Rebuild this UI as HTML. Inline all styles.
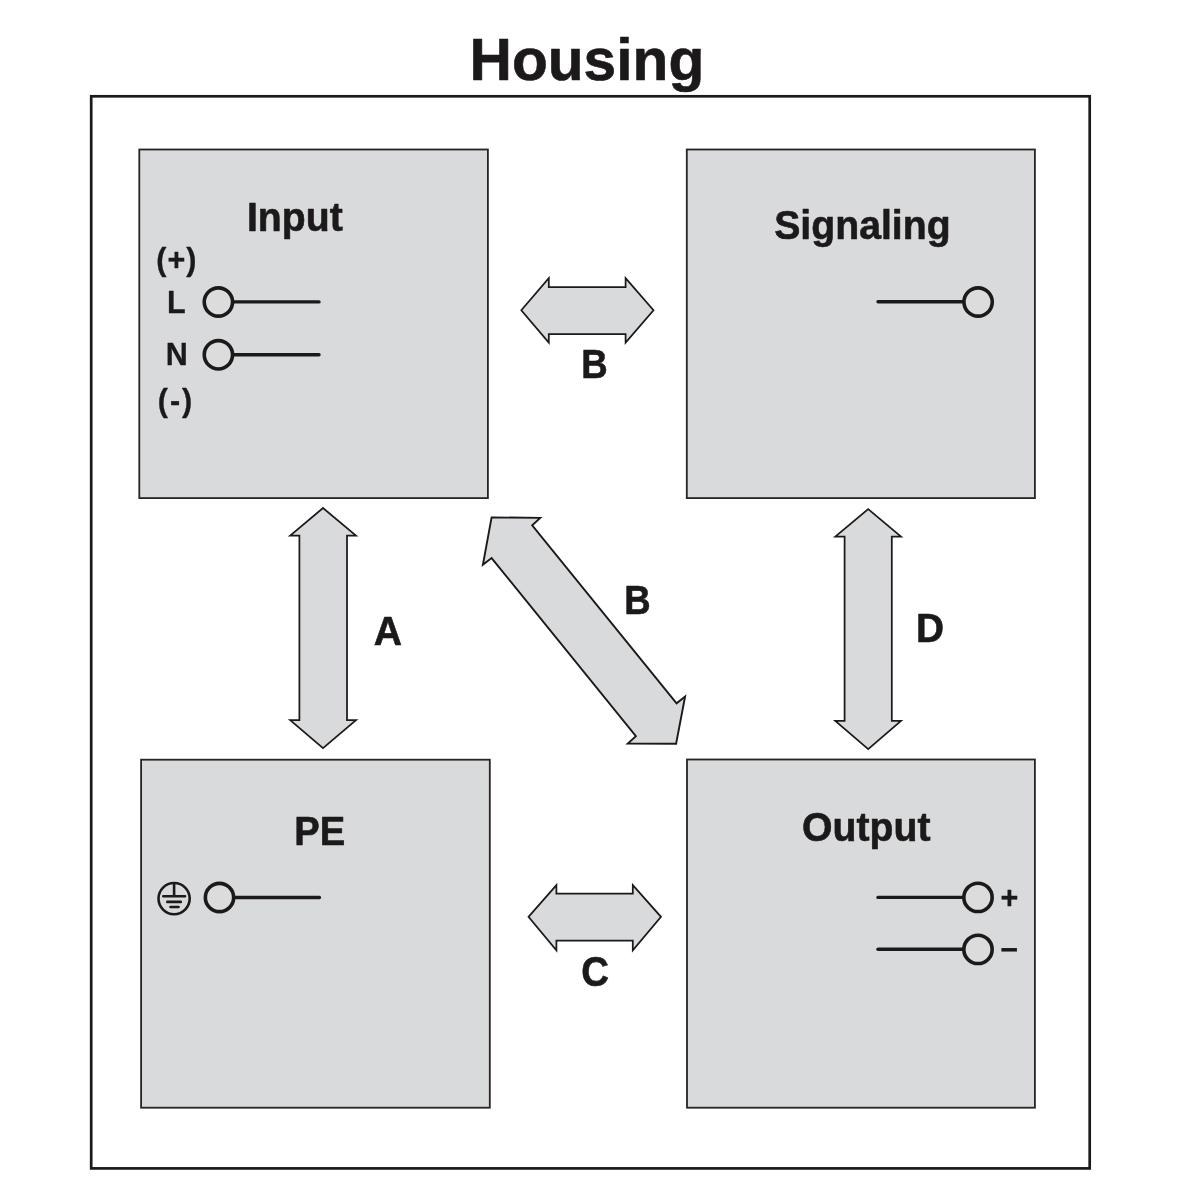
<!DOCTYPE html>
<html lang="en">
<head>
<meta charset="utf-8">
<title>Housing</title>
<style>
html,body{margin:0;padding:0;background:#fff;}
body{width:1181px;height:1200px;overflow:hidden;}
svg{display:block;will-change:transform;}
text{font-family:"Liberation Sans",Arial,Helvetica,sans-serif;font-weight:bold;fill:#1c191a;stroke:#1c191a;stroke-width:0.3px;stroke-linejoin:round;text-anchor:middle;}
.box{fill:#d9dadb;stroke:#262324;stroke-width:1.8;}
.arrow{fill:#d9dadb;stroke:#1c191a;stroke-width:1.75;stroke-linejoin:miter;}
.term{fill:#dcdcdd;stroke:#1c191a;stroke-width:3.6;}
.wire{fill:none;stroke:#1c191a;stroke-width:3.4;stroke-linecap:round;}
.gnd{fill:none;stroke:#1c191a;stroke-width:2.6;stroke-linecap:round;}
.t1{font-size:60px;stroke-width:0.6px;}
.t2{font-size:39.8px;stroke-width:0.6px;}
.t3{font-size:30.5px;}
</style>
</head>
<body>
<svg width="1181" height="1200" viewBox="0 0 1181 1200">
<rect x="0" y="0" width="1181" height="1200" fill="#ffffff"/>
<text id="title" class="t1" transform="translate(586.9 80) scale(0.978 1)">Housing</text>
<rect id="housing" x="91.2" y="96.3" width="998.5" height="1072.1" fill="#ffffff" stroke="#1c191a" stroke-width="2.7"/>

<rect id="b-input" class="box" x="139.3" y="149.5" width="348.6" height="348.6"/>
<rect id="b-signal" class="box" x="686.8" y="149.5" width="348.1" height="348.6"/>
<rect id="b-pe" class="box" x="141.1" y="759.7" width="348.7" height="348"/>
<rect id="b-output" class="box" x="687" y="759.5" width="347.9" height="348.2"/>

<polygon id="a-A" class="arrow" points="323,508 356,535.7 347,535.7 347,720.2 356,720.2 323,748.2 290.2,720.2 299.4,720.2 299.4,535.7 290.2,535.7"/>
<polygon id="a-D" class="arrow" points="868.2,509.1 901,536.6 891.8,536.6 891.8,720.9 901,720.9 868.2,749.1 835.3,720.9 844.6,720.9 844.6,536.6 835.3,536.6"/>
<polygon id="a-B" class="arrow" points="521.3,310.2 548.8,278.1 548.8,287 625.6,287 625.6,278.1 653.5,310.2 625.6,342.6 625.6,334.2 548.8,334.2 548.8,342.6"/>
<polygon id="a-C" class="arrow" points="528.5,916.8 556.4,885.1 556.4,893.7 632.8,893.7 632.8,885.1 661,916.8 632.8,950.4 632.8,940.7 556.4,940.7 556.4,950.4"/>
<polygon id="a-diag" class="arrow" style="stroke-width:1.9" points="491.6,517.4 540.2,517.9 532.2,525.4 676.6,703.3 685.1,696.5 676.1,743.7 627.8,743.5 635.9,736.1 491.6,558.1 482.9,564.8"/>

<text id="l-input" class="t2" transform="translate(294.8 230.5) scale(0.985 1)">Input</text>
<text id="l-signal" class="t2" transform="translate(862.4 239) scale(0.985 1)">Signaling</text>
<text id="l-pe" class="t2" transform="translate(319.8 844.9) scale(0.96 1)">PE</text>
<text id="l-output" class="t2" transform="translate(866.3 841) scale(0.985 1)">Output</text>
<text id="l-A" class="t2" transform="translate(387.9 644.6) scale(0.985 1)">A</text>
<text id="l-D" class="t2" transform="translate(929.9 642.4) scale(0.975 1)">D</text>
<text id="l-B1" class="t2" transform="translate(594.4 377.8) scale(0.92 1)">B</text>
<text id="l-B2" class="t2" transform="translate(637.6 613.7) scale(0.92 1)">B</text>
<text id="l-C" class="t2" transform="translate(595.1 985.8) scale(0.965 1.065)">C</text>

<text id="l-plus" class="t3" transform="translate(176.9 269.9) scale(1 1)" style="letter-spacing:1.1px">(+)</text>
<text id="l-L" class="t3" transform="translate(176.4 313) scale(1 1)">L</text>
<text id="l-N" class="t3" transform="translate(176.7 365.4) scale(1 1)">N</text>
<text id="l-minus" class="t3" transform="translate(175.9 411) scale(1 1)" style="letter-spacing:1.9px">(-)</text>
<text id="l-op" class="t3" transform="translate(1009.3 907.6) scale(1 1)">+</text>
<text id="l-om" class="t3" transform="translate(1009.3 959.6) scale(1 1)">−</text>

<g id="terms">
<path class="wire" d="M232.5 301.9H319"/>
<circle class="term" cx="218.4" cy="302" r="14.15"/>
<path class="wire" d="M232.5 354.7H319"/>
<circle class="term" cx="218.4" cy="354.8" r="14.15"/>
<path class="wire" d="M878 301.7H964"/>
<circle class="term" cx="978.1" cy="302" r="14.15"/>
<path class="wire" d="M233.5 897.5H319.4"/>
<circle class="term" cx="219.5" cy="897.5" r="14.15"/>
<path class="wire" d="M878 897.4H964"/>
<circle class="term" cx="978" cy="897.4" r="14.15"/>
<path class="wire" d="M878 949.3H964"/>
<circle class="term" cx="978" cy="949.4" r="14.15"/>
</g>
<g id="ground">
<circle class="gnd" cx="174.1" cy="898.6" r="15.6"/>
<path class="gnd" d="M174.1 883.5V896.2M163.3 896.2H185M167.3 901.9H180.8M170.5 907H178.5"/>
</g>
</svg>
</body>
</html>
